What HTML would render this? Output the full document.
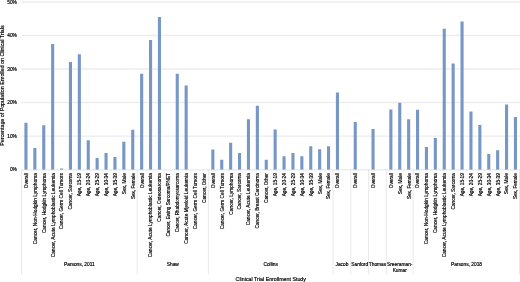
<!DOCTYPE html>
<html><head><meta charset="utf-8"><style>
html,body{margin:0;padding:0;background:#fff;}
body{width:520px;height:282px;overflow:hidden;}
svg{display:block;will-change:transform;font-family:"Liberation Sans",sans-serif;}
text{stroke:#000;stroke-width:0.18px;}
</style></head><body>
<svg width="520" height="282" viewBox="0 0 520 282">
<rect x="0" y="0" width="520" height="282" fill="#fff"/>

<line x1="21.50" x2="519.90" y1="136.08" y2="136.08" stroke="#EDEDED" stroke-width="1.4"/>
<line x1="21.50" x2="519.90" y1="102.56" y2="102.56" stroke="#EDEDED" stroke-width="1.4"/>
<line x1="21.50" x2="519.90" y1="69.04" y2="69.04" stroke="#EDEDED" stroke-width="1.4"/>
<line x1="21.50" x2="519.90" y1="35.52" y2="35.52" stroke="#EDEDED" stroke-width="1.4"/>
<line x1="21.50" x2="519.90" y1="2.00" y2="2.00" stroke="#EDEDED" stroke-width="1.4"/>
<line x1="21.50" x2="519.90" y1="169.90" y2="169.90" stroke="#E4E4E4" stroke-width="1"/>
<line x1="21.50" x2="21.50" y1="169.60" y2="274.4" stroke="#E7E7E7" stroke-width="0.9"/>
<line x1="137.20" x2="137.20" y1="169.60" y2="274.4" stroke="#E7E7E7" stroke-width="0.9"/>
<line x1="208.40" x2="208.40" y1="169.60" y2="274.4" stroke="#E7E7E7" stroke-width="0.9"/>
<line x1="333.00" x2="333.00" y1="169.60" y2="274.4" stroke="#E7E7E7" stroke-width="0.9"/>
<line x1="350.80" x2="350.80" y1="169.60" y2="274.4" stroke="#E7E7E7" stroke-width="0.9"/>
<line x1="368.60" x2="368.60" y1="169.60" y2="274.4" stroke="#E7E7E7" stroke-width="0.9"/>
<line x1="386.40" x2="386.40" y1="169.60" y2="274.4" stroke="#E7E7E7" stroke-width="0.9"/>
<line x1="413.10" x2="413.10" y1="169.60" y2="274.4" stroke="#E7E7E7" stroke-width="0.9"/>
<line x1="519.50" x2="519.50" y1="169.60" y2="274.4" stroke="#E7E7E7" stroke-width="0.9"/>
<rect x="24.40" y="122.75" width="3.1" height="46.85" fill="#7797C6"/>
<rect x="33.30" y="148.00" width="3.1" height="21.60" fill="#7797C6"/>
<rect x="42.20" y="125.25" width="3.1" height="44.35" fill="#7797C6"/>
<rect x="51.10" y="44.00" width="3.1" height="125.60" fill="#7797C6"/>
<rect x="60.00" y="168.50" width="3.1" height="1.10" fill="#7797C6"/>
<rect x="68.90" y="62.00" width="3.1" height="107.60" fill="#7797C6"/>
<rect x="77.80" y="54.25" width="3.1" height="115.35" fill="#7797C6"/>
<rect x="86.70" y="140.25" width="3.1" height="29.35" fill="#7797C6"/>
<rect x="95.60" y="158.00" width="3.1" height="11.60" fill="#7797C6"/>
<rect x="104.50" y="153.00" width="3.1" height="16.60" fill="#7797C6"/>
<rect x="113.40" y="157.00" width="3.1" height="12.60" fill="#7797C6"/>
<rect x="122.30" y="141.75" width="3.1" height="27.85" fill="#7797C6"/>
<rect x="131.20" y="129.75" width="3.1" height="39.85" fill="#7797C6"/>
<rect x="140.10" y="73.75" width="3.1" height="95.85" fill="#7797C6"/>
<rect x="149.00" y="40.00" width="3.1" height="129.60" fill="#7797C6"/>
<rect x="157.90" y="17.00" width="3.1" height="152.60" fill="#7797C6"/>
<rect x="175.70" y="73.75" width="3.1" height="95.85" fill="#7797C6"/>
<rect x="184.60" y="85.50" width="3.1" height="84.10" fill="#7797C6"/>
<rect x="211.30" y="149.50" width="3.1" height="20.10" fill="#7797C6"/>
<rect x="220.20" y="159.75" width="3.1" height="9.85" fill="#7797C6"/>
<rect x="229.10" y="142.75" width="3.1" height="26.85" fill="#7797C6"/>
<rect x="238.00" y="153.00" width="3.1" height="16.60" fill="#7797C6"/>
<rect x="246.90" y="119.25" width="3.1" height="50.35" fill="#7797C6"/>
<rect x="255.80" y="105.75" width="3.1" height="63.85" fill="#7797C6"/>
<rect x="264.70" y="159.75" width="3.1" height="9.85" fill="#7797C6"/>
<rect x="273.60" y="129.50" width="3.1" height="40.10" fill="#7797C6"/>
<rect x="282.50" y="156.25" width="3.1" height="13.35" fill="#7797C6"/>
<rect x="291.40" y="153.00" width="3.1" height="16.60" fill="#7797C6"/>
<rect x="300.30" y="156.25" width="3.1" height="13.35" fill="#7797C6"/>
<rect x="309.20" y="146.25" width="3.1" height="23.35" fill="#7797C6"/>
<rect x="318.10" y="149.25" width="3.1" height="20.35" fill="#7797C6"/>
<rect x="327.00" y="146.25" width="3.1" height="23.35" fill="#7797C6"/>
<rect x="335.90" y="92.50" width="3.1" height="77.10" fill="#7797C6"/>
<rect x="353.70" y="122.00" width="3.1" height="47.60" fill="#7797C6"/>
<rect x="371.50" y="129.00" width="3.1" height="40.60" fill="#7797C6"/>
<rect x="389.30" y="109.50" width="3.1" height="60.10" fill="#7797C6"/>
<rect x="398.20" y="102.75" width="3.1" height="66.85" fill="#7797C6"/>
<rect x="407.10" y="119.25" width="3.1" height="50.35" fill="#7797C6"/>
<rect x="416.00" y="109.75" width="3.1" height="59.85" fill="#7797C6"/>
<rect x="424.90" y="147.00" width="3.1" height="22.60" fill="#7797C6"/>
<rect x="433.80" y="138.00" width="3.1" height="31.60" fill="#7797C6"/>
<rect x="442.70" y="28.75" width="3.1" height="140.85" fill="#7797C6"/>
<rect x="451.60" y="63.50" width="3.1" height="106.10" fill="#7797C6"/>
<rect x="460.50" y="21.50" width="3.1" height="148.10" fill="#7797C6"/>
<rect x="469.40" y="111.50" width="3.1" height="58.10" fill="#7797C6"/>
<rect x="478.30" y="125.00" width="3.1" height="44.60" fill="#7797C6"/>
<rect x="487.20" y="154.00" width="3.1" height="15.60" fill="#7797C6"/>
<rect x="496.10" y="150.25" width="3.1" height="19.35" fill="#7797C6"/>
<rect x="505.00" y="104.50" width="3.1" height="65.10" fill="#7797C6"/>
<rect x="513.90" y="117.00" width="3.1" height="52.60" fill="#7797C6"/>
<text x="16.9" y="171.30" font-size="4.82" text-anchor="end" fill="#000">0%</text>
<text x="16.9" y="137.78" font-size="4.82" text-anchor="end" fill="#000">10%</text>
<text x="16.9" y="104.26" font-size="4.82" text-anchor="end" fill="#000">20%</text>
<text x="16.9" y="70.74" font-size="4.82" text-anchor="end" fill="#000">30%</text>
<text x="16.9" y="37.22" font-size="4.82" text-anchor="end" fill="#000">40%</text>
<text x="16.9" y="3.70" font-size="4.82" text-anchor="end" fill="#000">50%</text>
<text transform="translate(3.6,85.6) rotate(-90)" font-size="5.3" text-anchor="middle" fill="#000">Percentage of Population Enrolled on Clinical Trials</text>
<text transform="translate(27.85,173.1) rotate(-90)" font-size="5.2" text-anchor="end" textLength="15.27" lengthAdjust="spacingAndGlyphs" fill="#000">Overall</text>
<text transform="translate(36.75,173.1) rotate(-90)" font-size="5.2" text-anchor="end" textLength="71.09" lengthAdjust="spacingAndGlyphs" fill="#000">Cancer, Non-Hodgkin Lymphoma</text>
<text transform="translate(45.65,173.1) rotate(-90)" font-size="5.2" text-anchor="end" textLength="60.03" lengthAdjust="spacingAndGlyphs" fill="#000">Cancer, Hodgkin Lymphoma</text>
<text transform="translate(54.55,173.1) rotate(-90)" font-size="5.2" text-anchor="end" textLength="84.22" lengthAdjust="spacingAndGlyphs" fill="#000">Cancer, Acute Lymphoblastic Leukemia</text>
<text transform="translate(63.45,173.1) rotate(-90)" font-size="5.2" text-anchor="end" textLength="56.20" lengthAdjust="spacingAndGlyphs" fill="#000">Cancer, Germ Cell Tumors</text>
<text transform="translate(72.35,173.1) rotate(-90)" font-size="5.2" text-anchor="end" textLength="36.31" lengthAdjust="spacingAndGlyphs" fill="#000">Cancer, Sarcoma</text>
<text transform="translate(81.25,173.1) rotate(-90)" font-size="5.2" text-anchor="end" textLength="23.23" lengthAdjust="spacingAndGlyphs" fill="#000">Age, 15-19</text>
<text transform="translate(90.15,173.1) rotate(-90)" font-size="5.2" text-anchor="end" textLength="23.23" lengthAdjust="spacingAndGlyphs" fill="#000">Age, 20-24</text>
<text transform="translate(99.05,173.1) rotate(-90)" font-size="5.2" text-anchor="end" textLength="23.23" lengthAdjust="spacingAndGlyphs" fill="#000">Age, 25-29</text>
<text transform="translate(107.95,173.1) rotate(-90)" font-size="5.2" text-anchor="end" textLength="23.23" lengthAdjust="spacingAndGlyphs" fill="#000">Age, 30-34</text>
<text transform="translate(116.85,173.1) rotate(-90)" font-size="5.2" text-anchor="end" textLength="23.23" lengthAdjust="spacingAndGlyphs" fill="#000">Age, 35-39</text>
<text transform="translate(125.75,173.1) rotate(-90)" font-size="5.2" text-anchor="end" textLength="21.15" lengthAdjust="spacingAndGlyphs" fill="#000">Sex, Male</text>
<text transform="translate(134.65,173.1) rotate(-90)" font-size="5.2" text-anchor="end" textLength="26.03" lengthAdjust="spacingAndGlyphs" fill="#000">Sex, Female</text>
<text transform="translate(143.55,173.1) rotate(-90)" font-size="5.2" text-anchor="end" textLength="15.27" lengthAdjust="spacingAndGlyphs" fill="#000">Overall</text>
<text transform="translate(152.45,173.1) rotate(-90)" font-size="5.2" text-anchor="end" textLength="84.22" lengthAdjust="spacingAndGlyphs" fill="#000">Cancer, Acute Lymphoblastic Leukemia</text>
<text transform="translate(161.35,173.1) rotate(-90)" font-size="5.2" text-anchor="end" textLength="48.60" lengthAdjust="spacingAndGlyphs" fill="#000">Cancer, Osteosarcoma</text>
<text transform="translate(170.25,173.1) rotate(-90)" font-size="5.2" text-anchor="end" textLength="63.46" lengthAdjust="spacingAndGlyphs" fill="#000">Cancer, Ewing Sarcoma/PNET</text>
<text transform="translate(179.15,173.1) rotate(-90)" font-size="5.2" text-anchor="end" textLength="59.05" lengthAdjust="spacingAndGlyphs" fill="#000">Cancer, Rhabdomyosarcoma</text>
<text transform="translate(188.05,173.1) rotate(-90)" font-size="5.2" text-anchor="end" textLength="70.76" lengthAdjust="spacingAndGlyphs" fill="#000">Cancer, Acute Myeloid Leukemia</text>
<text transform="translate(196.95,173.1) rotate(-90)" font-size="5.2" text-anchor="end" textLength="56.20" lengthAdjust="spacingAndGlyphs" fill="#000">Cancer, Germ Cell Tumors</text>
<text transform="translate(205.85,173.1) rotate(-90)" font-size="5.2" text-anchor="end" textLength="30.01" lengthAdjust="spacingAndGlyphs" fill="#000">Cancer, Other</text>
<text transform="translate(214.75,173.1) rotate(-90)" font-size="5.2" text-anchor="end" textLength="15.27" lengthAdjust="spacingAndGlyphs" fill="#000">Overall</text>
<text transform="translate(223.65,173.1) rotate(-90)" font-size="5.2" text-anchor="end" textLength="56.20" lengthAdjust="spacingAndGlyphs" fill="#000">Cancer, Germ Cell Tumors</text>
<text transform="translate(232.55,173.1) rotate(-90)" font-size="5.2" text-anchor="end" textLength="41.62" lengthAdjust="spacingAndGlyphs" fill="#000">Cancer, Lymphoma</text>
<text transform="translate(241.45,173.1) rotate(-90)" font-size="5.2" text-anchor="end" textLength="36.31" lengthAdjust="spacingAndGlyphs" fill="#000">Cancer, Sarcoma</text>
<text transform="translate(250.35,173.1) rotate(-90)" font-size="5.2" text-anchor="end" textLength="52.25" lengthAdjust="spacingAndGlyphs" fill="#000">Cancer, Acute Leukemia</text>
<text transform="translate(259.25,173.1) rotate(-90)" font-size="5.2" text-anchor="end" textLength="55.34" lengthAdjust="spacingAndGlyphs" fill="#000">Cancer, Breast Carcinoma</text>
<text transform="translate(268.15,173.1) rotate(-90)" font-size="5.2" text-anchor="end" textLength="30.01" lengthAdjust="spacingAndGlyphs" fill="#000">Cancer, Other</text>
<text transform="translate(277.05,173.1) rotate(-90)" font-size="5.2" text-anchor="end" textLength="23.23" lengthAdjust="spacingAndGlyphs" fill="#000">Age, 15-19</text>
<text transform="translate(285.95,173.1) rotate(-90)" font-size="5.2" text-anchor="end" textLength="23.23" lengthAdjust="spacingAndGlyphs" fill="#000">Age, 20-24</text>
<text transform="translate(294.85,173.1) rotate(-90)" font-size="5.2" text-anchor="end" textLength="23.23" lengthAdjust="spacingAndGlyphs" fill="#000">Age, 25-29</text>
<text transform="translate(303.75,173.1) rotate(-90)" font-size="5.2" text-anchor="end" textLength="23.23" lengthAdjust="spacingAndGlyphs" fill="#000">Age, 30-34</text>
<text transform="translate(312.65,173.1) rotate(-90)" font-size="5.2" text-anchor="end" textLength="23.23" lengthAdjust="spacingAndGlyphs" fill="#000">Age, 35-39</text>
<text transform="translate(321.55,173.1) rotate(-90)" font-size="5.2" text-anchor="end" textLength="21.15" lengthAdjust="spacingAndGlyphs" fill="#000">Sex, Male</text>
<text transform="translate(330.45,173.1) rotate(-90)" font-size="5.2" text-anchor="end" textLength="26.03" lengthAdjust="spacingAndGlyphs" fill="#000">Sex, Female</text>
<text transform="translate(339.35,173.1) rotate(-90)" font-size="5.2" text-anchor="end" textLength="15.27" lengthAdjust="spacingAndGlyphs" fill="#000">Overall</text>
<text transform="translate(357.15,173.1) rotate(-90)" font-size="5.2" text-anchor="end" textLength="15.27" lengthAdjust="spacingAndGlyphs" fill="#000">Overall</text>
<text transform="translate(374.95,173.1) rotate(-90)" font-size="5.2" text-anchor="end" textLength="15.27" lengthAdjust="spacingAndGlyphs" fill="#000">Overall</text>
<text transform="translate(392.75,173.1) rotate(-90)" font-size="5.2" text-anchor="end" textLength="15.27" lengthAdjust="spacingAndGlyphs" fill="#000">Overall</text>
<text transform="translate(401.65,173.1) rotate(-90)" font-size="5.2" text-anchor="end" textLength="21.15" lengthAdjust="spacingAndGlyphs" fill="#000">Sex, Male</text>
<text transform="translate(410.55,173.1) rotate(-90)" font-size="5.2" text-anchor="end" textLength="26.03" lengthAdjust="spacingAndGlyphs" fill="#000">Sex, Female</text>
<text transform="translate(419.45,173.1) rotate(-90)" font-size="5.2" text-anchor="end" textLength="15.27" lengthAdjust="spacingAndGlyphs" fill="#000">Overall</text>
<text transform="translate(428.35,173.1) rotate(-90)" font-size="5.2" text-anchor="end" textLength="71.09" lengthAdjust="spacingAndGlyphs" fill="#000">Cancer, Non-Hodgkin Lymphoma</text>
<text transform="translate(437.25,173.1) rotate(-90)" font-size="5.2" text-anchor="end" textLength="60.03" lengthAdjust="spacingAndGlyphs" fill="#000">Cancer, Hodgkin Lymphoma</text>
<text transform="translate(446.15,173.1) rotate(-90)" font-size="5.2" text-anchor="end" textLength="84.22" lengthAdjust="spacingAndGlyphs" fill="#000">Cancer, Acute Lymphoblastic Leukemia</text>
<text transform="translate(455.05,173.1) rotate(-90)" font-size="5.2" text-anchor="end" textLength="36.31" lengthAdjust="spacingAndGlyphs" fill="#000">Cancer, Sarcoma</text>
<text transform="translate(463.95,173.1) rotate(-90)" font-size="5.2" text-anchor="end" textLength="23.23" lengthAdjust="spacingAndGlyphs" fill="#000">Age, 15-19</text>
<text transform="translate(472.85,173.1) rotate(-90)" font-size="5.2" text-anchor="end" textLength="23.23" lengthAdjust="spacingAndGlyphs" fill="#000">Age, 20-24</text>
<text transform="translate(481.75,173.1) rotate(-90)" font-size="5.2" text-anchor="end" textLength="23.23" lengthAdjust="spacingAndGlyphs" fill="#000">Age, 25-29</text>
<text transform="translate(490.65,173.1) rotate(-90)" font-size="5.2" text-anchor="end" textLength="23.23" lengthAdjust="spacingAndGlyphs" fill="#000">Age, 30-34</text>
<text transform="translate(499.55,173.1) rotate(-90)" font-size="5.2" text-anchor="end" textLength="23.23" lengthAdjust="spacingAndGlyphs" fill="#000">Age, 35-39</text>
<text transform="translate(508.45,173.1) rotate(-90)" font-size="5.2" text-anchor="end" textLength="21.15" lengthAdjust="spacingAndGlyphs" fill="#000">Sex, Male</text>
<text transform="translate(517.35,173.1) rotate(-90)" font-size="5.2" text-anchor="end" textLength="26.03" lengthAdjust="spacingAndGlyphs" fill="#000">Sex, Female</text>
<text x="79.35" y="266.2" font-size="4.82" text-anchor="middle" fill="#000">Parsons, 2011</text>
<text x="172.80" y="266.2" font-size="4.82" text-anchor="middle" fill="#000">Shaw</text>
<text x="270.70" y="266.2" font-size="4.82" text-anchor="middle" fill="#000">Collins</text>
<text x="341.90" y="266.2" font-size="4.82" text-anchor="middle" fill="#000">Jacob</text>
<text x="359.70" y="266.2" font-size="4.82" text-anchor="middle" fill="#000">Sanford</text>
<text x="377.50" y="266.2" font-size="4.82" text-anchor="middle" fill="#000">Thomas</text>
<text x="399.75" y="266.2" font-size="4.82" text-anchor="middle" fill="#000">Sreeraman-</text>
<text x="399.75" y="272.0" font-size="4.82" text-anchor="middle" fill="#000">Kumar</text>
<text x="466.50" y="266.2" font-size="4.82" text-anchor="middle" fill="#000">Parsons, 2018</text>
<text x="270.8" y="281" font-size="5.3" text-anchor="middle" fill="#000">Clinical Trial Enrollment Study</text>
</svg></body></html>
